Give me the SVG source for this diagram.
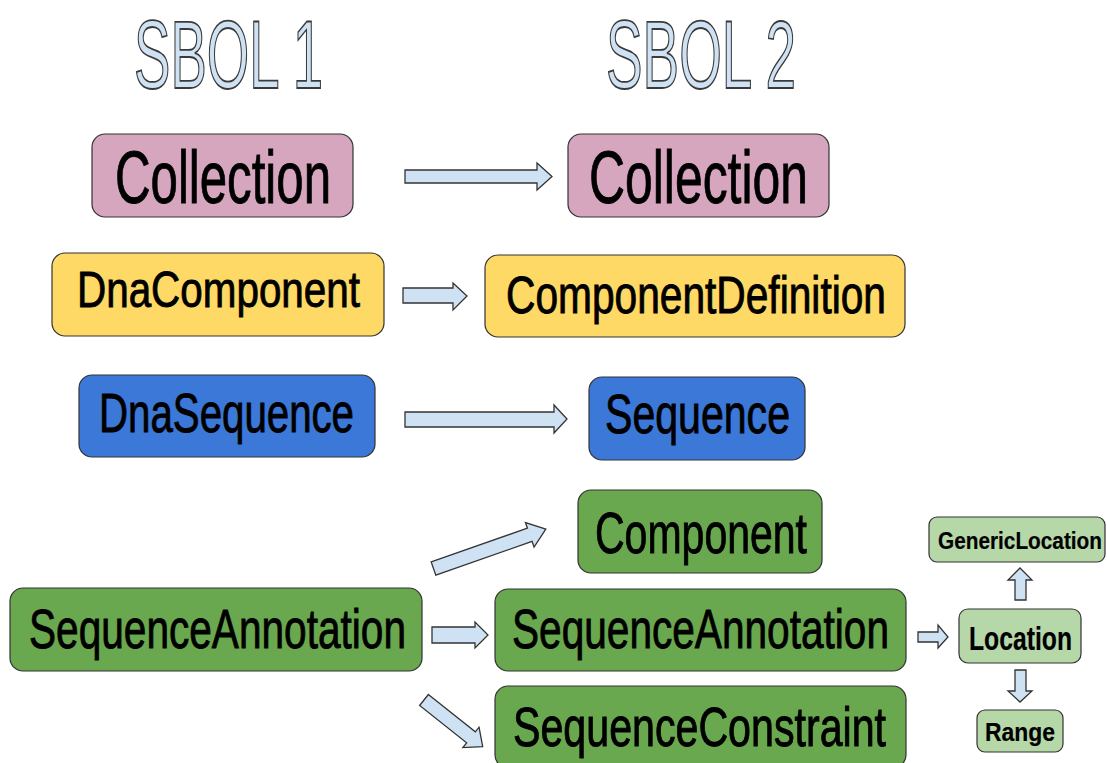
<svg xmlns="http://www.w3.org/2000/svg" width="1107" height="763" viewBox="0 0 1107 763">
<defs>
<style>
.title{font-family:"Liberation Sans",Arial,sans-serif;font-size:97px;fill:#cfe2f3;stroke:#3a3a3a;stroke-width:1.8px}
.box{stroke:#333;stroke-width:1.2px}
.lbl{font-family:"Liberation Sans",Arial,sans-serif;fill:#000;stroke:#000;stroke-width:0.9px}
.sm{font-weight:bold;stroke-width:0.2px}
.pink{fill:#d5a6bd}
.yellow{fill:#ffd966}
.blue{fill:#3c78d8}
.green{fill:#6aa84f}
.lgreen{fill:#b6d7a8}
.arr{fill:#cfe2f3;stroke:#333;stroke-width:1.3px;stroke-linejoin:miter}
</style>
</defs>
<rect width="1107" height="763" fill="#fff"/>
<g id="titles">
<text class="title" x="134" y="88" textLength="189" lengthAdjust="spacingAndGlyphs">SBOL 1</text>
<text class="title" x="606" y="88" textLength="190" lengthAdjust="spacingAndGlyphs">SBOL 2</text>
</g>
<g id="connectors">
<path class="arr" d="M405,170 H537 V163 L552,176.5 L537,190 V183 H405 Z"/>
<path class="arr" d="M403,288 H453 V283 L467,296 L453,310 V303 H403 Z"/>
<path class="arr" d="M405,412 H554 V405 L567,419 L554,433 V427 H405 Z"/>
<path class="arr" transform="translate(433.5,568.5) rotate(-19.3)" d="M0,-7 H102 V-13 L119,0 L102,13 V7 H0 Z"/>
<path class="arr" d="M432,627 H475 V622 L488,635 L475,648 V643 H432 Z"/>
<path class="arr" transform="translate(424,700) rotate(38.5)" d="M0,-7 H60 V-13 L75,0 L60,13 V7 H0 Z"/>
<path class="arr" d="M918,632 H938 V625 L948,637 L938,648 V642 H918 Z"/>
<path class="arr" d="M1015,600 V580 H1008 L1020,568 L1032,580 H1026 V600 Z"/>
<path class="arr" d="M1015,670 V691 H1008 L1020,702 L1032,691 H1026 V670 Z"/>
</g>
<g id="n-collection1">
<rect class="box pink" x="92" y="134" width="261" height="83" rx="13"/>
<text class="lbl" x="115" y="203" font-size="74" textLength="216" lengthAdjust="spacingAndGlyphs">Collection</text>
</g>
<g id="n-collection2">
<rect class="box pink" x="568" y="134" width="261" height="83" rx="13"/>
<text class="lbl" x="589" y="203" font-size="74" textLength="219" lengthAdjust="spacingAndGlyphs">Collection</text>
</g>
<g id="n-dnacomponent">
<rect class="box yellow" x="52" y="253" width="332" height="83" rx="13"/>
<text class="lbl" x="77" y="307" font-size="50" textLength="283" lengthAdjust="spacingAndGlyphs">DnaComponent</text>
</g>
<g id="n-componentdefinition">
<rect class="box yellow" x="485" y="255" width="420" height="82" rx="13"/>
<text class="lbl" x="506" y="313" font-size="51" textLength="380" lengthAdjust="spacingAndGlyphs">ComponentDefinition</text>
</g>
<g id="n-dnasequence">
<rect class="box blue" x="79" y="375" width="296" height="82" rx="13"/>
<text class="lbl" x="99" y="432" font-size="56" textLength="255" lengthAdjust="spacingAndGlyphs">DnaSequence</text>
</g>
<g id="n-sequence">
<rect class="box blue" x="589" y="377" width="216" height="83" rx="13"/>
<text class="lbl" x="605" y="433" font-size="56" textLength="185" lengthAdjust="spacingAndGlyphs">Sequence</text>
</g>
<g id="n-component">
<rect class="box green" x="578" y="490" width="244" height="83" rx="13"/>
<text class="lbl" x="595" y="553" font-size="58" textLength="212" lengthAdjust="spacingAndGlyphs">Component</text>
</g>
<g id="n-seqann1">
<rect class="box green" x="10" y="588" width="412" height="83" rx="13"/>
<text class="lbl" x="29" y="648" font-size="56" textLength="377" lengthAdjust="spacingAndGlyphs">SequenceAnnotation</text>
</g>
<g id="n-seqann2">
<rect class="box green" x="495" y="589" width="411" height="82" rx="13"/>
<text class="lbl" x="512" y="648" font-size="56" textLength="377" lengthAdjust="spacingAndGlyphs">SequenceAnnotation</text>
</g>
<g id="n-seqconstraint">
<rect class="box green" x="495" y="686" width="411" height="82" rx="13"/>
<text class="lbl" x="513" y="746" font-size="56" textLength="373" lengthAdjust="spacingAndGlyphs">SequenceConstraint</text>
</g>
<g id="n-genericlocation">
<rect class="box lgreen" x="929" y="517" width="176" height="45" rx="8"/>
<text class="lbl sm" x="938" y="549" font-size="24" textLength="164" lengthAdjust="spacingAndGlyphs">GenericLocation</text>
</g>
<g id="n-location">
<rect class="box lgreen" x="959" y="609" width="122" height="54" rx="9"/>
<text class="lbl sm" x="969" y="650" font-size="34" textLength="103" lengthAdjust="spacingAndGlyphs">Location</text>
</g>
<g id="n-range">
<rect class="box lgreen" x="977" y="710" width="86" height="42" rx="8"/>
<text class="lbl sm" x="985" y="741" font-size="26" textLength="70" lengthAdjust="spacingAndGlyphs">Range</text>
</g>
</svg>
